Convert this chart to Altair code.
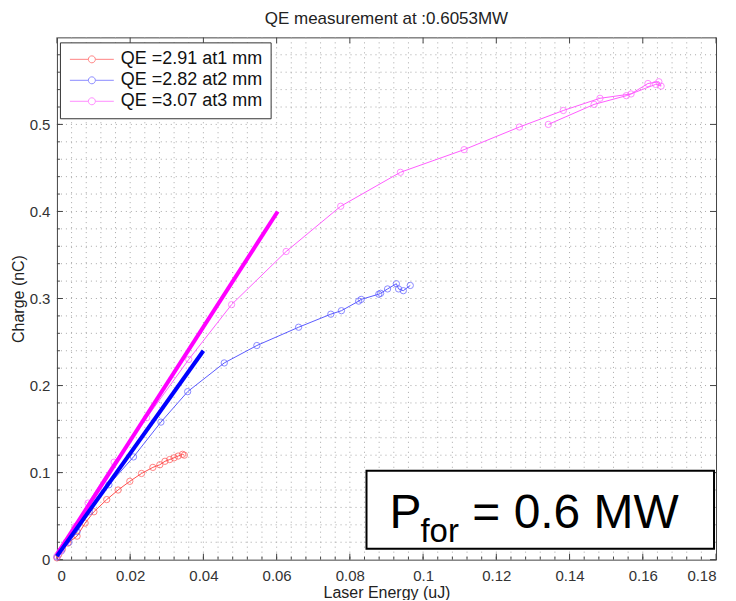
import altair as alt
import pandas as pd

FONT = "Liberation Sans"
W, H = 660, 523

title_text = "QE measurement at :0.6053MW"
x_title = "Laser Energy (uJ)"
y_title = "Charge (nC)"
series_labels = ["QE =2.91 at1 mm", "QE =2.82 at2 mm", "QE =3.07 at3 mm"]
series_colors = ["#ff5050", "#5a5aff", "#ff5cff"]

red_x = [0.0, 0.0005, 0.0015, 0.003, 0.0055, 0.0077, 0.0101, 0.0136, 0.0167, 0.0199,
         0.0231, 0.0262, 0.0281, 0.0295, 0.0308, 0.032, 0.0331, 0.0343, 0.0348]
red_y = [0.002, 0.006, 0.012, 0.019, 0.027, 0.042, 0.055, 0.069, 0.080, 0.090,
         0.099, 0.106, 0.109, 0.113, 0.115, 0.117, 0.119, 0.121, 0.120]

blue_x = [0.0, 0.0012, 0.0033, 0.0055, 0.0089, 0.0142, 0.0209, 0.0284, 0.0357, 0.0457,
          0.0546, 0.066, 0.0748, 0.0777, 0.0824, 0.0831, 0.0879, 0.0884, 0.0903, 0.0927,
          0.0933, 0.0946, 0.0965]
blue_y = [0.003, 0.010, 0.020, 0.032, 0.055, 0.086, 0.118, 0.158, 0.193, 0.226,
          0.246, 0.267, 0.282, 0.286, 0.297, 0.299, 0.305, 0.306, 0.311, 0.317,
          0.311, 0.309, 0.315]

pink_x = [0.0, 0.001, 0.0025, 0.005, 0.0085, 0.0156, 0.0245, 0.036, 0.0477, 0.0626,
          0.0775, 0.0938, 0.1112, 0.1263, 0.1383, 0.1483, 0.1568, 0.1614, 0.1644, 0.165,
          0.1635, 0.1555, 0.1467, 0.1342]
pink_y = [0.004, 0.010, 0.020, 0.038, 0.065, 0.112, 0.163, 0.230, 0.293, 0.354,
          0.406, 0.445, 0.471, 0.497, 0.516, 0.530, 0.535, 0.547, 0.549, 0.544,
          0.546, 0.533, 0.523, 0.500]

fit_pink_x = [0.0, 0.0603]
fit_pink_y = [0.006, 0.400]
fit_blue_x = [0.0, 0.0400]
fit_blue_y = [0.004, 0.240]

x_ticks = [0, 0.02, 0.04, 0.06, 0.08, 0.1, 0.12, 0.14, 0.16, 0.18]
y_ticks = [0, 0.1, 0.2, 0.3, 0.4, 0.5]
x_minor = [round(i * 0.004, 3) for i in range(1, 45)]
y_minor = [round(i * 0.02, 2) for i in range(1, 30)]

box_p = "P"
box_sub = "for"
box_rest = "= 0.6 MW"

rows = []
for lab, xs, ys in zip(series_labels, [red_x, blue_x, pink_x], [red_y, blue_y, pink_y]):
    for i, (a, b) in enumerate(zip(xs, ys)):
        rows.append({"series": lab, "i": i, "x": a, "y": b})
df = pd.DataFrame(rows)

xscale = alt.Scale(domain=[0, 0.18], nice=False, zero=False)
yscale = alt.Scale(domain=[0, 0.6], nice=False, zero=False)
cscale = alt.Scale(domain=series_labels, range=series_colors)

axis_style = dict(grid=False, ticks=False, domain=False,
                  labelFont=FONT, labelFontSize=15, labelColor="#333",
                  titleFont=FONT, titleFontSize=16, titleFontWeight="normal",
                  titleColor="#222")
xaxis = alt.Axis(values=x_ticks, format="~g", title=x_title,
                 labelPadding=9, titlePadding=1, **axis_style)
yaxis = alt.Axis(values=y_ticks, format="~g", title=y_title,
                 labelPadding=7, titlePadding=3, **axis_style)


def X(f):
    return alt.X(f, scale=xscale, axis=xaxis)


def Y(f):
    return alt.Y(f, scale=yscale, axis=yaxis)


LEG_PATH = ("M-1,0L1.64,0M2.64,0L5.28,0"
            "M1.64,0A0.5,0.5,0,1,1,2.64,0A0.5,0.5,0,1,1,1.64,0")

legend = alt.Legend(
    title=None, orient="none", legendX=3, legendY=5,
    symbolType=LEG_PATH, symbolSize=196, symbolStrokeWidth=1,
    symbolFillColor="transparent",
    labelFont=FONT, labelFontSize=18, labelColor="#111", labelOffset=35,
    padding=8, rowPadding=3, strokeColor="#333", fillColor="white",
)

xg = pd.DataFrame({"v": x_minor})
yg = pd.DataFrame({"v": y_minor})
xt = pd.DataFrame({"v": x_ticks})
yt = pd.DataFrame({"v": y_ticks})

grid_style = dict(color="#a8a8a8", strokeDash=[1, 4], strokeWidth=1)
grid_x = alt.Chart(xg).mark_rule(**grid_style).encode(x=X("v:Q"))
grid_y = alt.Chart(yg).mark_rule(**grid_style).encode(y=Y("v:Q"))

tick_c = "#444"
tb = alt.Chart(xt).mark_rule(color=tick_c).encode(
    x=X("v:Q"), y=alt.value(H), y2=alt.value(H - 6))
tt = alt.Chart(xt).mark_rule(color=tick_c).encode(
    x=X("v:Q"), y=alt.value(0), y2=alt.value(6))
tl = alt.Chart(yt).mark_rule(color=tick_c).encode(
    y=Y("v:Q"), x=alt.value(0), x2=alt.value(6))
tr = alt.Chart(yt).mark_rule(color=tick_c).encode(
    y=Y("v:Q"), x=alt.value(W), x2=alt.value(W - 6))
mb = alt.Chart(xg).mark_rule(color=tick_c).encode(
    x=X("v:Q"), y=alt.value(H), y2=alt.value(H - 3))
ml = alt.Chart(yg).mark_rule(color=tick_c).encode(
    y=Y("v:Q"), x=alt.value(0), x2=alt.value(3))

lines = alt.Chart(df).mark_line(strokeWidth=1).encode(
    x=X("x:Q"), y=Y("y:Q"),
    color=alt.Color("series:N", scale=cscale, legend=legend),
    order="i:Q",
)
points = alt.Chart(df).mark_point(filled=False, size=40, strokeWidth=1).encode(
    x=X("x:Q"), y=Y("y:Q"),
    color=alt.Color("series:N", scale=cscale, legend=legend),
)

fit_p = alt.Chart(pd.DataFrame({"x": fit_pink_x, "y": fit_pink_y})).mark_line(
    strokeWidth=4, color="#ff00ff").encode(x=X("x:Q"), y=Y("y:Q"))
fit_b = alt.Chart(pd.DataFrame({"x": fit_blue_x, "y": fit_blue_y})).mark_line(
    strokeWidth=4, color="#0000ff").encode(x=X("x:Q"), y=Y("y:Q"))

one = alt.Data(values=[{"a": 1}])
box = alt.Chart(one).mark_rect(fill="white", stroke="black", strokeWidth=2).encode(
    x=alt.value(310), x2=alt.value(658), y=alt.value(434), y2=alt.value(512))
txt_p = alt.Chart(one).mark_text(align="left", baseline="alphabetic", font=FONT,
                                 fontSize=48, color="black").encode(
    x=alt.value(333), y=alt.value(491), text=alt.value(box_p))
txt_s = alt.Chart(one).mark_text(align="left", baseline="alphabetic", font=FONT,
                                 fontSize=33, color="black").encode(
    x=alt.value(364), y=alt.value(505), text=alt.value(box_sub))
txt_r = alt.Chart(one).mark_text(align="left", baseline="alphabetic", font=FONT,
                                 fontSize=48, color="black").encode(
    x=alt.value(416), y=alt.value(491), text=alt.value(box_rest))

chart = alt.layer(
    grid_x, grid_y, tb, tt, tl, tr, mb, ml,
    lines, points, fit_p, fit_b, box, txt_p, txt_s, txt_r,
).properties(
    width=W, height=H,
    background="white",
    title=alt.Title(title_text, font=FONT, fontSize=17, fontWeight="normal",
                    color="#222", offset=9),
    padding={"left": 49, "top": 29, "right": 12, "bottom": 40},
    autosize=alt.AutoSizeParams(type="none"),
).configure_view(
    stroke="#444", strokeWidth=1
).configure_axis(
    grid=False, ticks=False, domain=False,
    labelFont=FONT, labelFontSize=15, labelColor="#333",
    titleFont=FONT, titleFontSize=16, titleFontWeight="normal", titleColor="#222",
)

chart.save("out.html", embed_options={"renderer": "svg", "actions": False})
